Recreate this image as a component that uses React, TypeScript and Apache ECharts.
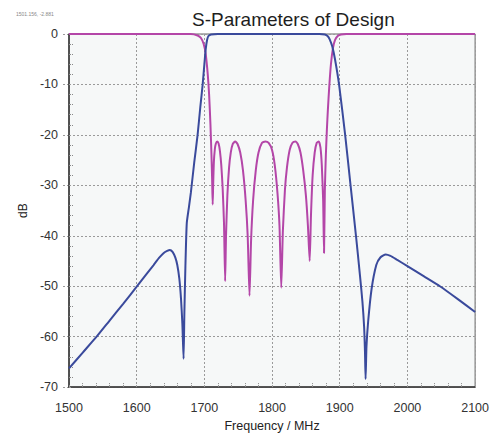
import React, { useEffect, useRef } from "react";
import * as echarts from "echarts";

const titleText = "S-Parameters of Design";
const cursorText = "1501.156, -2.881";
const xName = "Frequency / MHz";
const yName = "dB";

// S21 (transmission), [MHz, dB]
const s21Freq = [1500, 1520, 1542, 1560, 1580, 1600, 1615, 1625, 1633, 1640, 1645, 1649, 1653, 1657, 1660, 1663, 1665.5, 1667.5, 1669.3, 1670.5, 1672, 1674, 1677, 1680, 1685, 1690, 1694, 1697.5, 1700, 1702, 1704, 1706, 1710, 1720, 1870, 1878, 1882, 1885, 1889, 1893, 1899, 1908, 1916, 1924, 1930, 1933.5, 1936, 1937.3, 1938.2, 1939.5, 1942, 1947, 1954, 1960, 1968, 1975, 1985, 2000, 2024, 2048, 2075, 2100];
const s21Db = [-66.3, -63.2, -59.8, -56.8, -53.5, -50.1, -47.5, -45.8, -44.4, -43.4, -43.0, -42.8, -43.2, -44.3, -45.8, -48.5, -52.5, -57.5, -64.4, -55, -46, -37.5, -34.5, -31.5, -25.5, -20, -14.5, -10, -6, -3, -1.2, -0.4, -0.1, 0, 0, -0.1, -0.4, -1, -2.5, -5, -10, -20, -30, -40, -48, -53, -58, -63, -68.4, -62, -57, -50.6, -45.8, -44.3, -43.7, -44, -44.8, -46, -48, -50, -52.6, -55.1];

// S11 (reflection), [MHz, dB]
const s11Freq = [1500, 1680, 1690, 1695, 1699, 1702, 1705, 1707, 1709, 1710.5, 1711.5, 1712.3, 1713, 1714, 1715.5, 1717, 1719, 1721, 1723, 1725, 1727, 1729, 1730.7, 1732, 1734, 1736.5, 1739, 1742, 1745.5, 1749, 1753, 1757, 1761, 1764, 1766.7, 1769, 1772, 1776, 1780, 1785, 1790, 1795, 1800, 1804, 1808, 1811, 1813.6, 1816, 1819, 1822, 1826, 1830, 1834.4, 1838, 1842, 1846, 1850, 1853, 1855.6, 1857.5, 1860, 1863, 1866, 1869, 1871.5, 1873.5, 1875.5, 1876.8, 1878, 1879.5, 1881, 1882.5, 1884.5, 1887, 1890, 1893, 1897, 1902, 1910, 2100];
const s11Db = [0, 0, -0.3, -0.8, -2, -4, -8, -12, -18, -24, -29, -33.8, -30, -25.5, -22.8, -21.7, -21.3, -21.7, -23.2, -26, -30.5, -37.5, -49, -40, -32, -26.5, -23.5, -21.8, -21.3, -21.8, -23.5, -27, -33, -40, -51.9, -41, -33, -27, -23.5, -21.6, -21.3, -21.6, -23, -26, -31.5, -38, -50.3, -39, -31, -26.5, -23, -21.6, -21.3, -21.8, -23.5, -27, -32, -38, -45, -36, -28, -23.5, -21.6, -21.3, -22.5, -26, -33, -43.4, -31, -24, -19, -15, -10.5, -6, -2.8, -1.2, -0.4, -0.1, 0, 0];

const xTicks = { min: 1500, max: 2100, interval: 100 };
const yTicks = { min: -70, max: 0, interval: 10 };

const pair = (xs: number[], ys: number[]) => xs.map((x, i) => [x, ys[i]]);

export default function App() {
  const ref = useRef<HTMLDivElement>(null);
  useEffect(() => {
    if (!ref.current) return;
    const chart = echarts.init(ref.current, null, { renderer: "svg" });
    const font = "Liberation Sans, Arial, sans-serif";
    const dotted = { color: "#9a9a9a", type: [2, 2] as any, width: 1 };
    const minor = { show: true, splitNumber: 5, length: 4, lineStyle: { color: "#8a8a8a", width: 1, type: [2, 1] as any } };
    chart.setOption({
      animation: false,
      backgroundColor: "#ffffff",
      textStyle: { fontFamily: font },
      title: {
        text: titleText,
        left: 187,
        top: 5,
        textStyle: { fontSize: 19, fontWeight: "normal", color: "#1e1e1e", fontFamily: font },
      },
      graphic: [
        {
          type: "text",
          left: 16,
          top: 11,
          style: { text: cursorText, fontSize: 5, fill: "#888", fontFamily: font },
        },
      ],
      grid: {
        left: 69,
        top: 34,
        width: 407,
        height: 362,
        show: true,
        backgroundColor: "#f6f8f8",
        borderColor: "#666",
        borderWidth: 1,
      },
      xAxis: [
        {
          type: "value",
          position: "bottom",
          min: xTicks.min,
          max: xTicks.max,
          interval: xTicks.interval,
          name: xName,
          nameLocation: "middle",
          nameGap: 29,
          nameTextStyle: { fontSize: 12.5, color: "#222", fontFamily: font },
          axisLine: { show: true, onZero: false, lineStyle: { color: "#333", width: 1.5 } },
          axisTick: { show: true, inside: true, length: 4, lineStyle: dotted },
          minorTick: minor,
          axisLabel: { fontSize: 12.5, color: "#333", margin: 14, fontFamily: font, formatter: (v: number) => String(v) },
          splitLine: { show: true, lineStyle: dotted },
          z: 2,
        },
        {
          type: "value",
          position: "bottom",
          min: xTicks.min,
          max: xTicks.max,
          interval: xTicks.interval,
          axisLine: { show: false },
          axisTick: { show: true, inside: false, length: 7, lineStyle: dotted },
          axisLabel: { show: false },
          splitLine: { show: false },
        },
      ],
      yAxis: [
        {
          type: "value",
          position: "left",
          min: yTicks.min,
          max: yTicks.max,
          interval: yTicks.interval,
          name: yName,
          nameLocation: "middle",
          nameGap: 37,
          nameTextStyle: { fontSize: 12, color: "#222", fontFamily: font },
          axisLine: { show: true, onZero: false, lineStyle: { color: "#333", width: 1.5 } },
          axisTick: { show: true, inside: true, length: 4, lineStyle: dotted },
          minorTick: minor,
          axisLabel: { fontSize: 12.5, color: "#333", margin: 11, fontFamily: font, formatter: (v: number) => String(v) },
          splitLine: { show: true, lineStyle: dotted },
          z: 2,
        },
        {
          type: "value",
          position: "left",
          min: yTicks.min,
          max: yTicks.max,
          interval: yTicks.interval,
          axisLine: { show: false },
          axisTick: { show: true, inside: false, length: 6, lineStyle: dotted },
          axisLabel: { show: false },
          splitLine: { show: false },
        },
      ],
      series: [
        {
          name: "S21",
          type: "line",
          xAxisIndex: 0,
          yAxisIndex: 0,
          data: pair(s21Freq, s21Db),
          showSymbol: false,
          smooth: 0.2,
          lineStyle: { color: "#3a4a9c", width: 2 },
          z: 3,
        },
        {
          name: "S11",
          type: "line",
          xAxisIndex: 0,
          yAxisIndex: 0,
          data: pair(s11Freq, s11Db),
          showSymbol: false,
          smooth: 0.2,
          lineStyle: { color: "#b446a8", width: 2 },
          z: 2,
        },
      ],
    });
    return () => chart.dispose();
  }, []);
  return <div ref={ref} style={{ position: "fixed", left: 0, top: 0, width: 492, height: 437 }} />;
}
